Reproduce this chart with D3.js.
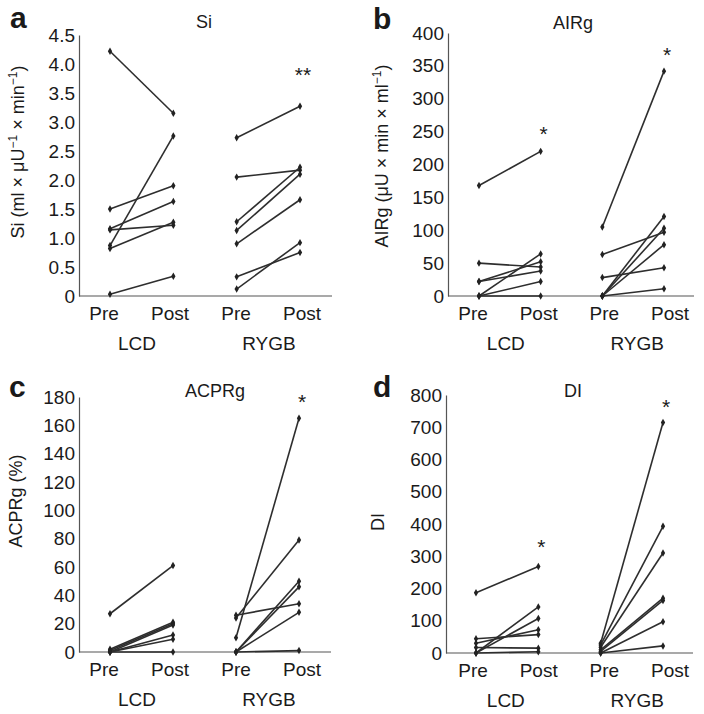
<!DOCTYPE html>
<html><head><meta charset="utf-8">
<script src="https://cdn.jsdelivr.net/npm/d3@7"></script>
<style>body{margin:0;background:#fff}svg{display:block}text{font-family:"Liberation Sans",Arial,Helvetica,sans-serif;fill:#1a1a1a}</style>
</head><body>
<svg id="c" width="704" height="714"></svg>
<script>
const phases = ["Pre", "Post"];
const groups = ["LCD", "RYGB"];

// Panel a: Si (pre, post) per subject
const siLCD  = [[4.22,3.15],[1.50,1.90],[1.16,1.63],[1.14,1.22],[0.87,2.76],[0.82,1.27],[0.03,0.34]];
const siRYGB = [[2.73,3.27],[2.05,2.17],[1.28,2.22],[1.13,2.10],[0.90,1.66],[0.33,0.75],[0.12,0.92]];
const siTicks = [0,0.5,1.0,1.5,2.0,2.5,3.0,3.5,4.0,4.5];

// Panel b: AIRg
const airLCD  = [[168,220],[50,44],[22,52],[22,38],[0,64],[0,22],[0,0]];
const airRYGB = [[105,342],[63,97],[28,43],[0,121],[0,103],[0,78],[0,11]];
const airTicks = [0,50,100,150,200,250,300,350,400];

// Panel c: ACPRg
const acpLCD  = [[27,61],[2,21],[1,20],[0,19],[0,12],[0,9],[0,0]];
const acpRYGB = [[10,165],[24,79],[26,34],[0,50],[0,46],[0,28],[0,1]];
const acpTicks = [0,20,40,60,80,100,120,140,160,180];

// Panel d: DI
const diLCD  = [[187,268],[44,57],[30,72],[17,15],[0,143],[0,107],[0,4]];
const diRYGB = [[30,715],[25,393],[18,310],[10,170],[5,163],[0,97],[0,22]];
const diTicks = [0,100,200,300,400,500,600,700,800];

// significance marks: [group, label, value]
const starsA = [["RYGB","**",3.85]];
const starsB = [["LCD","*",250],["RYGB","*",370]];
const starsC = [["RYGB","*",178]];
const starsD = [["LCD","*",335],["RYGB","*",770]];

const svg = d3.select("#c");
const FS = 19;

function tickFmt(v, decimals){ return v === 0 ? "0" : (decimals ? d3.format(".1f")(v) : String(v)); }

function panel(o){
  const g = svg.append("g");
  const cats = [];
  groups.forEach(gr => phases.forEach(p => cats.push(gr + "-" + p)));
  const x = d3.scalePoint().domain(cats).range(o.px);
  const xl = d3.scalePoint().domain(cats).range(o.lx);
  const y = d3.scaleLinear().domain([0, o.ticks[o.ticks.length-1]]).range([o.yBot, o.yTop]);

  const ya = d3.axisLeft(y).tickValues(o.ticks).tickSize(0).tickPadding(4)
    .tickFormat(v => tickFmt(v, o.dec));
  const yg = g.append("g").attr("transform", `translate(${o.x0},0)`).call(ya);
  yg.select(".domain").attr("stroke", "#555").attr("stroke-width", 1.2);
  yg.selectAll("text").attr("font-size", FS).attr("fill", "#1a1a1a")
    .style("font-family", '"Liberation Sans",Arial,sans-serif');

  const xs = d3.scaleLinear().domain([0,1]).range([o.x0, o.x1]);
  g.append("line").attr("x1", xs(0)).attr("x2", xs(1)).attr("y1", o.yBot).attr("y2", o.yBot)
    .attr("stroke", "#555").attr("stroke-width", 1.2);

  g.selectAll(".pl").data(cats).join("text")
    .attr("x", d => xl(d)).attr("y", o.yBot + 24).attr("text-anchor", "middle")
    .attr("font-size", FS).text(d => d.split("-")[1]);
  g.selectAll(".gl").data(groups).join("text")
    .attr("x", d => (xl(d + "-Pre") + xl(d + "-Post")) / 2).attr("y", o.yBot + 54)
    .attr("text-anchor", "middle").attr("font-size", FS).text(d => d);

  const sets = [[groups[0], o.d1], [groups[1], o.d2]];
  sets.forEach(([gr, arr]) => {
    arr.forEach(pair => {
      const pts = pair.map((v, i) => [x(gr + "-" + phases[i]), y(v)]);
      g.append("path").attr("d", d3.line()(pts)).attr("fill", "none")
        .attr("stroke", "#2e2e2e").attr("stroke-width", 1.6);
      pts.forEach(p => g.append("path")
        .attr("d", d3.symbol(d3.symbolDiamond, 16)())
        .attr("transform", `translate(${p[0]},${p[1]})`).attr("fill", "#222"));
    });
  });

  o.stars.forEach(([gr, lab, v]) => {
    g.append("text").attr("x", x(gr + "-Post") + 3).attr("y", y(v) + 9)
      .attr("text-anchor", "middle").attr("font-size", 21).text(lab);
  });

  g.append("text").attr("x", o.tx).attr("y", o.ty).attr("text-anchor", "middle")
    .attr("font-size", 18).text(o.title);
  g.append("text").attr("x", o.lx0).attr("y", o.ty).attr("font-size", 30)
    .attr("font-weight", "bold").attr("fill", "#111").text(o.letter);
  const yl = g.append("text").attr("transform", `translate(${o.ylx},${o.yly}) rotate(-90)`)
    .attr("text-anchor", "middle").attr("font-size", 18);
  o.ylabel(yl);
}

function siLabel(sel){
  sel.append("tspan").text("Si (ml \u00d7 \u03bcU");
  sel.append("tspan").text("\u22121").attr("font-size", 12).attr("dy", -7);
  sel.append("tspan").text(" \u00d7 min").attr("dy", 7);
  sel.append("tspan").text("\u22121").attr("font-size", 12).attr("dy", -7);
  sel.append("tspan").text(")").attr("dy", 7);
}
function airLabel(sel){
  sel.append("tspan").text("AIRg (\u03bcU \u00d7 min \u00d7 ml");
  sel.append("tspan").text("\u22121").attr("font-size", 12).attr("dy", -7);
  sel.append("tspan").text(")").attr("dy", 7);
}

panel({letter:"a", title:"Si", tx:204, ty:28, lx0:10, x0:79, x1:332, yTop:35, yBot:296,
  px:[110,300], lx:[104,302], ticks:siTicks, dec:true, d1:siLCD, d2:siRYGB, stars:starsA,
  ylx:24, yly:152, ylabel:siLabel});
panel({letter:"b", title:"AIRg", tx:573, ty:29, lx0:373, x0:448, x1:694, yTop:33, yBot:296,
  px:[479,664], lx:[473,670], ticks:airTicks, dec:false, d1:airLCD, d2:airRYGB, stars:starsB,
  ylx:388, yly:156, ylabel:airLabel});
panel({letter:"c", title:"ACPRg", tx:215, ty:397, lx0:9, x0:79, x1:331, yTop:397, yBot:652,
  px:[110,299], lx:[104,302], ticks:acpTicks, dec:false, d1:acpLCD, d2:acpRYGB, stars:starsC,
  ylx:22, yly:501, ylabel: s => s.text("ACPRg (%)")});
panel({letter:"d", title:"DI", tx:573, ty:397, lx0:373, x0:446, x1:693, yTop:395, yBot:653,
  px:[476,663], lx:[473,670], ticks:diTicks, dec:false, d1:diLCD, d2:diRYGB, stars:starsD,
  ylx:384, yly:522, ylabel: s => s.text("DI")});
</script>
</body></html>
